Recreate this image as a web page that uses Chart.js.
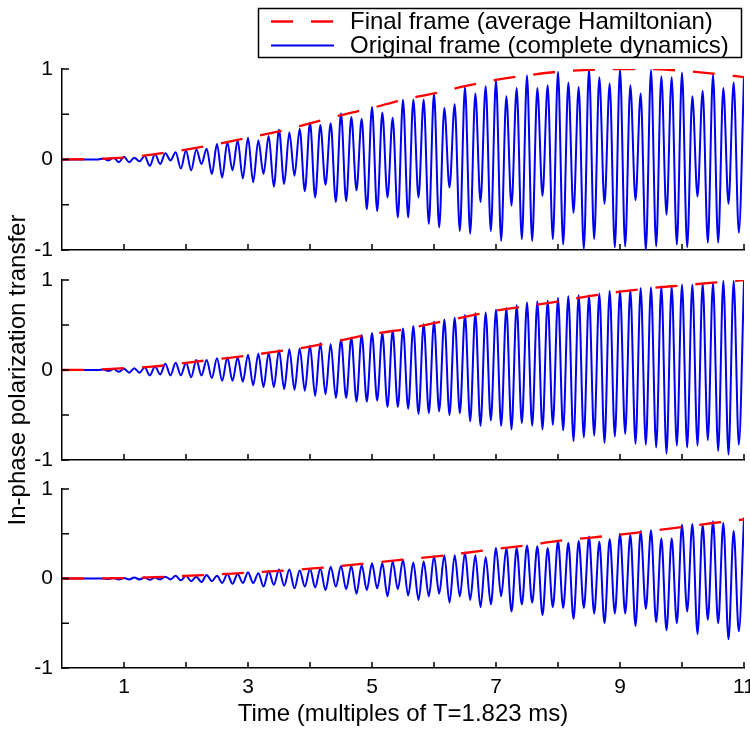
<!DOCTYPE html>
<html>
<head>
<meta charset="utf-8">
<script src="https://cdn.jsdelivr.net/npm/chart.js@4.4.0/dist/chart.umd.min.js"></script>
<style>
  body { margin: 0; background: #fff; }
  #wrap { position: relative; width: 750px; height: 732px; }
  #wrap canvas { position: absolute; left: 0; top: 0; }
</style>
</head>
<body>
<div id="wrap">
  <canvas id="panel1" width="750" height="732"></canvas>
  <canvas id="panel2" width="750" height="732"></canvas>
  <canvas id="panel3" width="750" height="732"></canvas>
</div>
<script>
// oscillation period: 6 maxima per unit of T
const period = 1 / 6;

// maxima (at k*period) and minima (at (k+0.5)*period)
const peaks1 = [0, 0, 0, 0, 0.01, 0.02, 0.03, 0.02, 0.04, 0.06,
  0.07, 0.08, 0.10, 0.11, 0.12, 0.17, 0.19, 0.21, 0.24, 0.21,
  0.26, 0.33, 0.30, 0.34, 0.41, 0.38, 0.40, 0.51, 0.47, 0.45,
  0.58, 0.52, 0.46, 0.66, 0.66, 0.66, 0.73, 0.57, 0.61, 0.80,
  0.73, 0.81, 0.88, 0.70, 0.79, 0.93, 0.79, 0.82, 0.97, 0.85,
  0.80, 1.00, 0.91, 0.84, 1.00, 0.82, 0.73, 0.99, 0.92, 0.91,
  0.96, 0.70, 0.76, 0.94, 0.79, 0.85, 0.91];
const troughs1 = [0, 0, 0, 0, -0.01, -0.03, -0.03, -0.02, -0.07, -0.05,
  -0.01, -0.10, -0.12, -0.05, -0.16, -0.20, -0.12, -0.21, -0.25, -0.16,
  -0.30, -0.27, -0.18, -0.35, -0.42, -0.28, -0.47, -0.46, -0.34, -0.55,
  -0.57, -0.42, -0.64, -0.64, -0.42, -0.71, -0.75, -0.31, -0.79, -0.82,
  -0.47, -0.79, -0.90, -0.51, -0.88, -0.90, -0.40, -0.88, -0.94, -0.59,
  -0.99, -0.88, -0.49, -0.97, -0.96, -0.45, -1.00, -0.96, -0.61, -0.94,
  -0.97, -0.41, -0.92, -0.92, -0.49, -0.81];

const peaks2 = [0, 0, 0, 0, 0.005, 0.01, 0.015, 0.02, 0.03, 0.04,
  0.07, 0.08, 0.08, 0.11, 0.11, 0.13, 0.14, 0.14, 0.17, 0.18,
  0.19, 0.22, 0.23, 0.24, 0.27, 0.30, 0.29, 0.34, 0.36, 0.39,
  0.41, 0.41, 0.44, 0.46, 0.49, 0.51, 0.54, 0.56, 0.58, 0.61,
  0.63, 0.64, 0.67, 0.69, 0.72, 0.75, 0.76, 0.77, 0.80, 0.82,
  0.83, 0.83, 0.85, 0.88, 0.88, 0.89, 0.91, 0.92, 0.93, 0.93,
  0.95, 0.95, 0.96, 0.97, 0.99, 0.99, 0.99];
const troughs2 = [0, 0, 0, 0, -0.01, -0.02, -0.03, -0.03, -0.06, -0.05,
  -0.06, -0.06, -0.08, -0.06, -0.09, -0.12, -0.12, -0.13, -0.17, -0.19,
  -0.19, -0.21, -0.22, -0.23, -0.29, -0.27, -0.31, -0.31, -0.35, -0.35,
  -0.34, -0.41, -0.41, -0.43, -0.49, -0.48, -0.46, -0.50, -0.48, -0.57,
  -0.62, -0.56, -0.62, -0.66, -0.59, -0.62, -0.66, -0.61, -0.67, -0.79,
  -0.75, -0.73, -0.81, -0.74, -0.71, -0.82, -0.83, -0.86, -0.93, -0.84,
  -0.86, -0.84, -0.78, -0.90, -0.94, -0.83];

const peaks3 = [0, 0, 0, 0, 0, 0.005, 0.005, 0.01, 0.01, 0.01,
  0.02, 0.03, 0.03, 0.02, 0.04, 0.03, 0.05, 0.05, 0.07, 0.06,
  0.08, 0.10, 0.10, 0.09, 0.11, 0.11, 0.13, 0.14, 0.14, 0.15,
  0.17, 0.17, 0.19, 0.21, 0.18, 0.19, 0.25, 0.26, 0.26, 0.29,
  0.26, 0.24, 0.34, 0.34, 0.34, 0.37, 0.36, 0.34, 0.42, 0.40,
  0.42, 0.47, 0.41, 0.44, 0.50, 0.49, 0.53, 0.54, 0.45, 0.45,
  0.60, 0.61, 0.60, 0.64, 0.62, 0.53, 0.68];
const troughs3 = [0, 0, 0, 0, -0.005, -0.01, -0.01, -0.01, -0.015, -0.01,
  -0.01, -0.02, -0.03, -0.04, -0.03, -0.05, -0.06, -0.05, -0.05, -0.09,
  -0.07, -0.08, -0.11, -0.09, -0.10, -0.13, -0.09, -0.12, -0.17, -0.13,
  -0.11, -0.20, -0.12, -0.19, -0.24, -0.20, -0.17, -0.27, -0.20, -0.24,
  -0.32, -0.29, -0.20, -0.37, -0.29, -0.27, -0.41, -0.32, -0.33, -0.45,
  -0.33, -0.39, -0.50, -0.39, -0.39, -0.53, -0.34, -0.49, -0.58, -0.50,
  -0.37, -0.62, -0.46, -0.50, -0.68, -0.59];

// average Hamiltonian curves (red dashed)
const envTimes = [0, 0.5, 1, 1.5, 2, 2.5, 3, 3.5, 4, 4.5, 5, 5.5,
  6, 6.5, 7, 7.5, 8, 8.5, 9, 9.5, 10, 10.5, 11];
const env1 = [0, 0.005, 0.02, 0.06, 0.11, 0.17, 0.24, 0.31, 0.40, 0.49, 0.57, 0.66,
  0.73, 0.81, 0.88, 0.93, 0.97, 0.99, 1.0, 1.0, 0.98, 0.95, 0.91];
const env2 = [0, 0.003, 0.02, 0.04, 0.08, 0.12, 0.16, 0.21, 0.26, 0.33, 0.40, 0.45,
  0.52, 0.59, 0.66, 0.71, 0.76, 0.82, 0.87, 0.91, 0.94, 0.97, 1.0];
const env3 = [0, 0, 0.005, 0.015, 0.03, 0.045, 0.065, 0.085, 0.11, 0.14, 0.175, 0.21,
  0.245, 0.285, 0.33, 0.37, 0.42, 0.455, 0.49, 0.53, 0.575, 0.62, 0.66];

const xTickLabels = [1, 3, 5, 7, 9, 11];
const yTickLabels = [-1, 0, 1];

const FONT = '"Liberation Sans", Arial, sans-serif';

function wave(peaks, troughs) {
    let pts = [];
    for (let k = 0; k < peaks.length; k++) {
        pts.push({x: k * period, y: peaks[k]});
        if (k < troughs.length) pts.push({x: (k + 0.5) * period, y: troughs[k]});
    }
    return pts;
}

function pairs(xs, ys) {
    return xs.map((x, i) => ({x: x, y: ys[i]}));
}

// MATLAB style ticks pointing into the axes
const inwardTicks = {
    id: 'inwardTicks',
    afterDraw(chart) {
        const ctx = chart.ctx, a = chart.chartArea;
        const x = chart.scales.x, y = chart.scales.y;
        ctx.save();
        ctx.strokeStyle = '#000';
        ctx.lineWidth = 1.5;
        ctx.beginPath();
        x.ticks.forEach(t => {
            if (t.value === 0) return;
            const px = x.getPixelForValue(t.value);
            ctx.moveTo(px, a.bottom);
            ctx.lineTo(px, a.bottom - 6);
        });
        y.ticks.forEach(t => {
            const py = y.getPixelForValue(t.value);
            ctx.moveTo(a.left, py);
            ctx.lineTo(a.left + 7, py);
        });
        ctx.stroke();
        ctx.restore();
    }
};

const legendBox = {
    id: 'legendBox',
    afterDraw(chart, args, opts) {
        if (!opts.show) return;
        const ctx = chart.ctx;
        ctx.save();
        ctx.fillStyle = '#fff';
        ctx.fillRect(258, 8, 483, 49);
        ctx.strokeStyle = '#000';
        ctx.lineWidth = 1.5;
        ctx.strokeRect(258.5, 8.5, 483, 49);
        chart.data.datasets.forEach((ds, i) => {
            const yy = 21.5 + i * 24;
            ctx.strokeStyle = ds.borderColor;
            ctx.lineWidth = ds.borderWidth;
            ctx.setLineDash(ds.borderDash || []);
            ctx.beginPath();
            ctx.moveTo(271, yy);
            ctx.lineTo(334, yy);
            ctx.stroke();
            ctx.setLineDash([]);
            ctx.fillStyle = '#000';
            ctx.font = '24px ' + FONT;
            ctx.textBaseline = 'middle';
            ctx.fillText(ds.label, 350, yy + 1);
        });
        ctx.restore();
    }
};

function makePanel(id, blue, env, o) {
    const xh = o.last ? 64 : 0;
    return new Chart(document.getElementById(id), {
        type: 'line',
        data: {
            datasets: [{
                label: 'Final frame (average Hamiltonian)',
                data: pairs(envTimes, env),
                borderColor: '#ff0000',
                borderWidth: 2.3,
                borderDash: [22, 18],
                pointRadius: 0,
                cubicInterpolationMode: 'monotone'
            }, {
                label: 'Original frame (complete dynamics)',
                data: wave(blue[0], blue[1]),
                borderColor: '#0000ee',
                borderWidth: 2,
                pointRadius: 0,
                cubicInterpolationMode: 'monotone'
            }]
        },
        options: {
            responsive: false,
            animation: false,
            events: [],
            layout: {
                padding: {top: o.top, right: 6, left: 0, bottom: 732 - o.bottom - xh}
            },
            plugins: {
                legend: {display: false},
                tooltip: {enabled: false},
                legendBox: {show: !!o.legend}
            },
            scales: {
                x: {
                    type: 'linear',
                    min: 0,
                    max: 11,
                    grid: {display: false, drawTicks: false},
                    border: {display: true, color: '#000', width: 1.5},
                    ticks: {
                        display: !!o.last,
                        stepSize: 1,
                        padding: 7,
                        color: '#000',
                        font: {family: FONT, size: 21},
                        maxRotation: 0,
                        autoSkip: false,
                        callback: v => xTickLabels.includes(v) ? String(v) : ''
                    },
                    title: {
                        display: !!o.last,
                        text: 'Time (multiples of T=1.823 ms)',
                        color: '#000',
                        font: {family: FONT, size: 24},
                        padding: {top: 0, bottom: 3}
                    },
                    afterFit: s => { s.height = xh; s.paddingLeft = 0; s.paddingRight = 0; }
                },
                y: {
                    min: -1,
                    max: 1,
                    grid: {display: false, drawTicks: false},
                    border: {display: true, color: '#000', width: 1.5},
                    ticks: {
                        stepSize: 0.5,
                        padding: 9,
                        color: '#000',
                        font: {family: FONT, size: 21},
                        callback: v => yTickLabels.includes(v) ? String(v) : ''
                    },
                    title: {
                        display: !!o.ylabel,
                        text: 'In-phase polarization transfer',
                        color: '#000',
                        font: {family: FONT, size: 24},
                        padding: {top: 4, bottom: 0}
                    },
                    afterFit: s => { s.width = 62; s.paddingTop = 0; s.paddingBottom = 0; }
                }
            }
        },
        plugins: [inwardTicks, legendBox]
    });
}

makePanel('panel1', [peaks1, troughs1], env1, {top: 69, bottom: 250, legend: true});
makePanel('panel2', [peaks2, troughs2], env2, {top: 280, bottom: 460, ylabel: true});
makePanel('panel3', [peaks3, troughs3], env3, {top: 489, bottom: 668, last: true});
</script>
</body>
</html>
